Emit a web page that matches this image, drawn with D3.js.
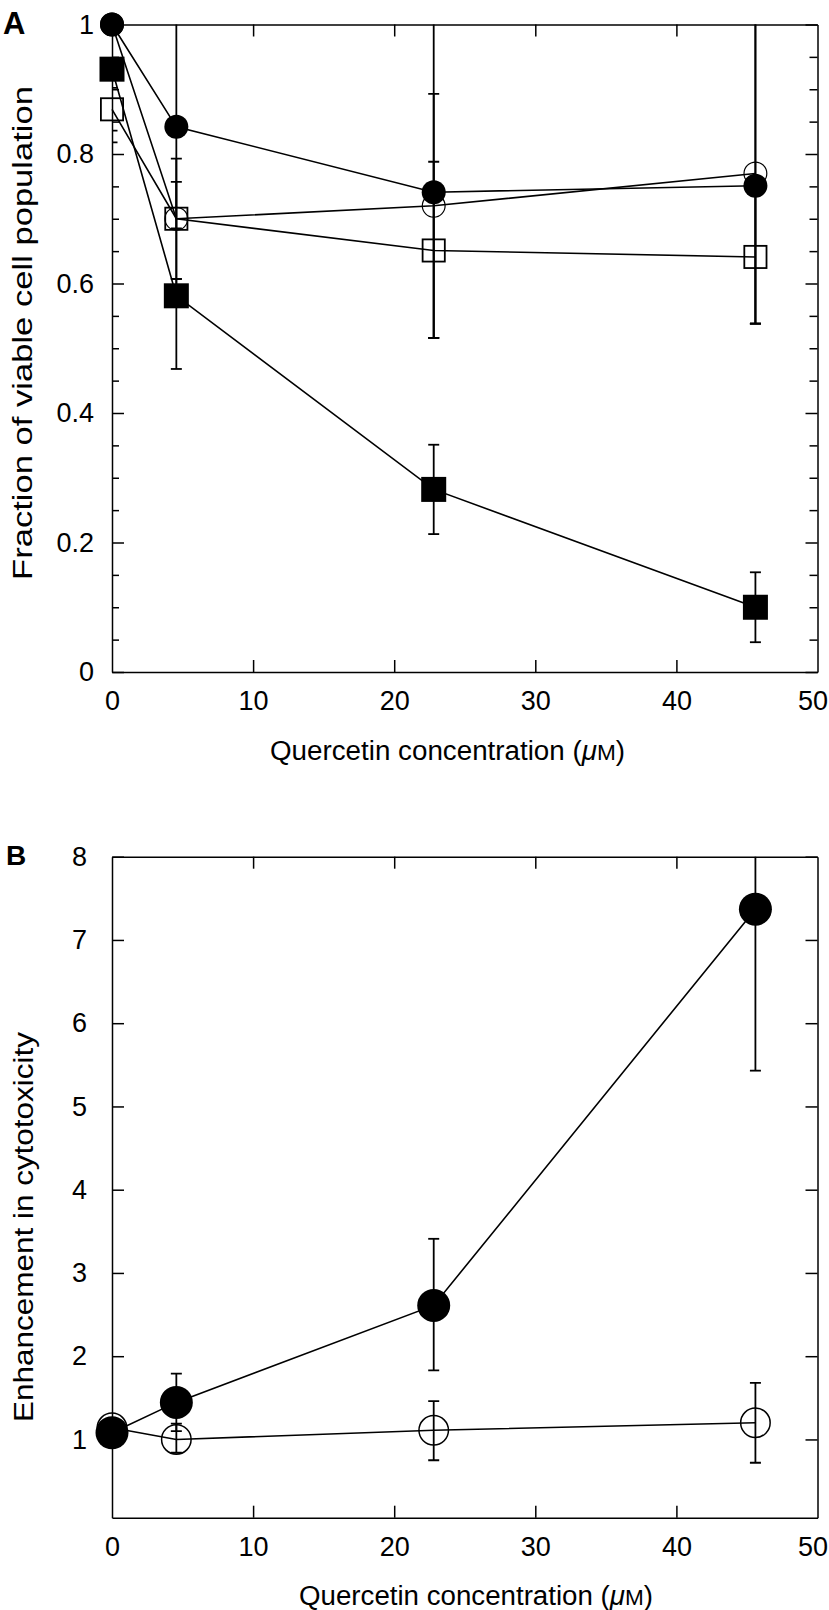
<!DOCTYPE html>
<html>
<head>
    <title>Quercetin cytotoxicity</title>
    <script src="https://d3js.org/d3.v7.min.js"></script>
    <style>
        body, html {
            margin: 0;
            padding: 0;
            background: #fff;
        }
        text {
            font-family: 'Liberation Sans', Arial, Helvetica, sans-serif;
            fill: #000;
        }
        .axis path, .axis line {
            stroke: #000;
            stroke-width: 1.5;
        }
        .axis text {
            font-size: 27px;
        }
    </style>
</head>
<body>
<script>
    // x values shared by both panels (quercetin, uM)
    const conc = [0, 4.56, 22.8, 45.6];
    const xTicks = [0, 10, 20, 30, 40, 50];
    const xInnerTicks = [10, 20, 30, 40];

    // Panel A: fraction of viable cells
    const aFilledCircle = [1.0, 0.842, 0.741, 0.751];
    const aOpenCircle = [1.0, 0.700, 0.720, 0.770];
    const aOpenSquare = [0.869, 0.700, 0.651, 0.641];
    const aFilledSquare = [0.931, 0.581, 0.282, 0.100];
    // error bar ends (null = none)
    const aFilledCircleLo = [null, 0.468, 0.516, 0.538];
    const aFilledCircleHi = [null, 1.2, 1.2, 1.2];
    const aOpenCircleLo = [null, 0.685, 0.516, 0.538];
    const aOpenCircleHi = [null, 0.757, 0.893, 1.2];
    const aOpenSquareLo = [0.836, 0.607, 0.516, 0.538];
    const aOpenSquareHi = [0.902, 0.793, 0.788, 0.744];
    const aFilledSquareLo = [0.818, 0.565, 0.213, 0.046];
    const aFilledSquareHi = [1.2, 0.607, 0.351, 0.154];
    const aYTicks = [0, 0.2, 0.4, 0.6, 0.8, 1];
    const aYTickLabels = ["0", "0.2", "0.4", "0.6", "0.8", "1"];
    const aYMinorTicks = d3.range(0, 21).map(i => i * 0.05).filter(v => Math.round(v * 100) % 20 !== 0);

    // Panel B: enhancement in cytotoxicity
    const bFilledCircle = [1.08, 1.445, 2.61, 7.37];
    const bOpenCircle = [1.14, 1.00, 1.11, 1.20];
    const bFilledCircleLo = [null, 1.10, 1.83, 5.43];
    const bFilledCircleHi = [null, 1.79, 3.41, 9.3];
    const bOpenCircleLo = [null, 0.84, 0.75, 0.72];
    const bOpenCircleHi = [null, 1.19, 1.46, 1.68];
    const bYTicks = [1, 2, 3, 4, 5, 6, 7, 8];

    const W = 829, H = 1610;
    const svg = d3.select("body").append("svg")
        .attr("width", W)
        .attr("height", H)
        .attr("viewBox", [0, 0, W, H]);

    function drawPanel(p) {
        const x = d3.scaleLinear().domain([0, 50]).range([p.left, p.right]);
        const y = d3.scaleLinear().domain(p.yDomain).range([p.bottom, p.top]);
        const g = svg.append("g");

        g.append("clipPath").attr("id", "clip-" + p.id)
            .append("rect")
            .attr("x", p.left).attr("y", p.top)
            .attr("width", p.right - p.left).attr("height", p.bottom - p.top);

        // axes (ticks point inward)
        g.append("g").attr("class", "axis")
            .attr("transform", `translate(0,${p.bottom})`)
            .call(d3.axisBottom(x).tickValues(xTicks).tickSizeInner(-12).tickSizeOuter(0).tickPadding(19))
            .call(a => a.selectAll(".tick").filter(d => d === 0 || d === 50).select("line").remove())
            .call(a => a.selectAll(".tick").filter(d => d === 50).select("text").attr("dx", -5));
        g.append("g").attr("class", "axis")
            .attr("transform", `translate(0,${p.top})`)
            .call(d3.axisTop(x).tickValues(xInnerTicks).tickSizeInner(-12).tickSizeOuter(0).tickFormat(""));
        g.append("g").attr("class", "axis")
            .attr("transform", `translate(${p.left},0)`)
            .call(d3.axisLeft(y).tickValues(p.yTicks).tickSizeInner(-12).tickSizeOuter(0)
                .tickPadding(p.left - p.labelRight).tickFormat((d, i) => p.yLabels[i]));
        g.append("g").attr("class", "axis")
            .attr("transform", `translate(${p.right},0)`)
            .call(d3.axisRight(y).tickValues(p.yTicks).tickSizeInner(-12).tickSizeOuter(0).tickFormat(""));
        if (p.yMinor) {
            g.append("g").attr("class", "axis")
                .attr("transform", `translate(${p.left},0)`)
                .call(d3.axisLeft(y).tickValues(p.yMinor).tickSizeInner(-7).tickSizeOuter(0).tickFormat(""))
                .call(a => a.select(".domain").remove());
            g.append("g").attr("class", "axis")
                .attr("transform", `translate(${p.right},0)`)
                .call(d3.axisRight(y).tickValues(p.yMinor).tickSizeInner(-8).tickSizeOuter(0).tickFormat(""))
                .call(a => a.select(".domain").remove());
        }

        // connecting lines
        const line = d3.line().x((d, i) => x(conc[i])).y(d => y(d));
        p.series.forEach(s => {
            g.append("path")
                .attr("d", line(s.values))
                .attr("fill", "none")
                .attr("stroke", "#000")
                .attr("stroke-width", 1.6);
        });

        // error bars, clipped to the frame
        const eb = g.append("g").attr("clip-path", `url(#clip-${p.id})`)
            .attr("stroke", "#000").attr("stroke-width", 1.8);
        p.series.forEach(s => {
            conc.forEach((c, i) => {
                if (s.lo[i] == null) return;
                const cx = x(c);
                eb.append("line").attr("x1", cx).attr("x2", cx)
                    .attr("y1", y(s.lo[i])).attr("y2", y(s.hi[i]));
                [s.lo[i], s.hi[i]].forEach(v => {
                    eb.append("line").attr("x1", cx - 5.5).attr("x2", cx + 5.5)
                        .attr("y1", y(v)).attr("y2", y(v));
                });
            });
        });

        // markers
        p.series.forEach(s => {
            const pts = s.values.map((v, i) => [x(conc[i]), y(v)]);
            if (s.shape === "circle") {
                g.append("g").selectAll("circle").data(pts).join("circle")
                    .attr("cx", d => d[0]).attr("cy", d => d[1])
                    .attr("r", s.filled ? s.size : s.size - s.sw / 2)
                    .attr("fill", s.filled ? "#000" : "none")
                    .attr("stroke", s.filled ? "none" : "#000")
                    .attr("stroke-width", s.sw);
            } else {
                const h = s.filled ? s.size : s.size - s.sw / 2;
                g.append("g").selectAll("rect").data(pts).join("rect")
                    .attr("x", d => d[0] - h).attr("y", d => d[1] - h)
                    .attr("width", 2 * h).attr("height", 2 * h)
                    .attr("fill", s.filled ? "#000" : "none")
                    .attr("stroke", s.filled ? "none" : "#000")
                    .attr("stroke-width", s.sw);
            }
        });

        // axis titles
        const xl = g.append("text")
            .attr("x", p.xTitleX).attr("y", p.xTitleY)
            .style("font-size", "27px")
            .attr("textLength", p.xTitleLen)
            .attr("lengthAdjust", "spacingAndGlyphs");
        xl.append("tspan").text("Quercetin concentration (");
        xl.append("tspan").attr("font-style", "italic").text("\u03bc");
        xl.append("tspan").style("font-size", "22px").text("M");
        xl.append("tspan").text(")");

        g.append("text")
            .attr("transform", `translate(${p.yTitleX},${p.yTitleY}) rotate(-90)`)
            .attr("text-anchor", "middle")
            .style("font-size", "27px")
            .attr("textLength", p.yTitleLen)
            .attr("lengthAdjust", "spacingAndGlyphs")
            .text(p.yTitle);

        g.append("text")
            .attr("x", p.letterX).attr("y", p.letterY)
            .style("font-size", p.letterSize + "px")
            .style("font-weight", "bold")
            .text(p.id);
    }

    drawPanel({
        id: "A",
        left: 112, right: 817.5, top: 24.5, bottom: 672,
        yDomain: [0, 1], yTicks: aYTicks, yLabels: aYTickLabels, yMinor: aYMinorTicks,
        labelRight: 94,
        xTitleX: 270, xTitleY: 760, xTitleLen: 355,
        yTitle: "Fraction of viable cell population", yTitleX: 32, yTitleY: 333, yTitleLen: 494,
        letterX: 3, letterY: 33.5, letterSize: 31,
        series: [
            {values: aOpenCircle, lo: aOpenCircleLo, hi: aOpenCircleHi, shape: "circle", filled: false, size: 12, sw: 1.2},
            {values: aOpenSquare, lo: aOpenSquareLo, hi: aOpenSquareHi, shape: "square", filled: false, size: 12, sw: 1.8},
            {values: aFilledSquare, lo: aFilledSquareLo, hi: aFilledSquareHi, shape: "square", filled: true, size: 12.5, sw: 0},
            {values: aFilledCircle, lo: aFilledCircleLo, hi: aFilledCircleHi, shape: "circle", filled: true, size: 12, sw: 0}
        ]
    });

    drawPanel({
        id: "B",
        left: 112, right: 817.5, top: 856.7, bottom: 1517.7,
        yDomain: [0.06, 8], yTicks: bYTicks, yLabels: bYTicks.map(String), yMinor: null,
        labelRight: 87,
        xTitleX: 299, xTitleY: 1605, xTitleLen: 354,
        yTitle: "Enhancement in cytotoxicity", yTitleX: 33, yTitleY: 1227, yTitleLen: 390,
        letterX: 6, letterY: 865, letterSize: 28,
        series: [
            {values: bOpenCircle, lo: bOpenCircleLo, hi: bOpenCircleHi, shape: "circle", filled: false, size: 15.5, sw: 1.5},
            {values: bFilledCircle, lo: bFilledCircleLo, hi: bFilledCircleHi, shape: "circle", filled: true, size: 16.5, sw: 0}
        ]
    });
</script>
</body>
</html>
